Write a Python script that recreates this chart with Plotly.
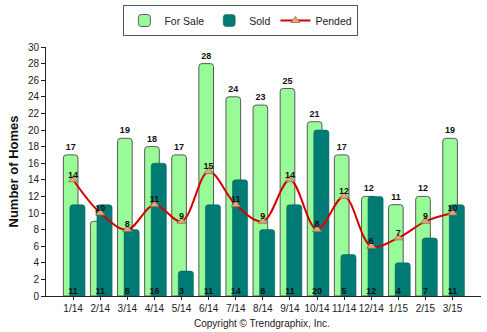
import plotly.graph_objects as go

months = ["1/14", "2/14", "3/14", "4/14", "5/14", "6/14", "7/14", "8/14", "9/14",
          "10/14", "11/14", "12/14", "1/15", "2/15", "3/15"]
for_sale = [17, 9, 19, 18, 17, 28, 24, 23, 25, 21, 17, 12, 11, 12, 19]
sold = [11, 11, 8, 16, 3, 11, 14, 8, 11, 20, 5, 12, 4, 7, 11]
pended = [14, 10, 8, 11, 9, 15, 11, 9, 14, 8, 12, 6, 7, 9, 10]

x = list(range(len(months)))
FONT = "Arial, Liberation Sans, sans-serif"
LBL = dict(family=FONT, size=9, color="#111111")

fig = go.Figure()
fig.add_trace(go.Bar(
    x=x, y=for_sale, name="For Sale",
    offset=-0.36, width=0.54,
    marker=dict(color="#98FB98", line=dict(color="#5a5a5a", width=1)),
    text=["<b>%d</b>" % v for v in for_sale], textposition="outside",
    textfont=LBL, cliponaxis=False,
))
fig.add_trace(go.Bar(
    x=x, y=sold, name="Sold",
    offset=-0.12, width=0.56,
    marker=dict(color="#007B74", line=dict(color="#00605a", width=0.5)),
))
fig.add_trace(go.Scatter(
    x=x, y=[0] * len(sold), mode="text", showlegend=False,
    text=["<b>%d</b>" % v for v in sold], textposition="top center",
    textfont=LBL, hoverinfo="skip",
))
fig.add_trace(go.Scatter(
    x=x, y=pended, name="Pended", mode="lines+markers",
    line=dict(color="#D40000", width=2, shape="spline", smoothing=1.0),
    marker=dict(symbol="triangle-up", size=8, color="#F4A460",
                line=dict(color="#777777", width=0.8)),
))
fig.add_trace(go.Scatter(
    x=x, y=pended, mode="text", showlegend=False,
    text=["<b>%d</b>" % v for v in pended], textposition="top center",
    textfont=LBL, hoverinfo="skip",
))

fig.update_layout(
    width=487, height=332,
    margin=dict(l=46, r=6, t=46, b=36),
    paper_bgcolor="white", plot_bgcolor="white",
    barmode="overlay", barcornerradius=3,
    font=dict(family=FONT, size=10, color="#222222"),
    showlegend=True,
    legend=dict(
        orientation="h", x=0.448, xanchor="center", y=1.164, yanchor="top",
        bordercolor="#4a5a70", borderwidth=1, bgcolor="white",
        font=dict(family=FONT, size=10.5, color="#222222"),
        itemwidth=30, tracegroupgap=0,
    ),
    xaxis=dict(
        range=[-1, 15.05], tickvals=x, ticktext=months,
        showline=True, linecolor="#222222", linewidth=1,
        ticks="outside", ticklen=3, tickcolor="#222222",
        showgrid=False, zeroline=False,
        tickfont=dict(family=FONT, size=10, color="#222222"),
    ),
    yaxis=dict(
        range=[0, 30], dtick=2,
        showline=True, linecolor="#222222", linewidth=1,
        ticks="outside", ticklen=4, tickcolor="#222222",
        showgrid=False, zeroline=False,
        tickfont=dict(family=FONT, size=10, color="#222222"),
        title=dict(text="<b>Number of Homes</b>", standoff=6,
                   font=dict(family=FONT, size=13, color="#111111")),
    ),
    annotations=[dict(
        text="Copyright © Trendgraphix, Inc.", xref="paper", yref="paper",
        x=0.497, y=-0.112, xanchor="center", yanchor="middle", showarrow=False,
        font=dict(family=FONT, size=10, color="#222222"),
    )],
)

fig.write_html("out.html")
